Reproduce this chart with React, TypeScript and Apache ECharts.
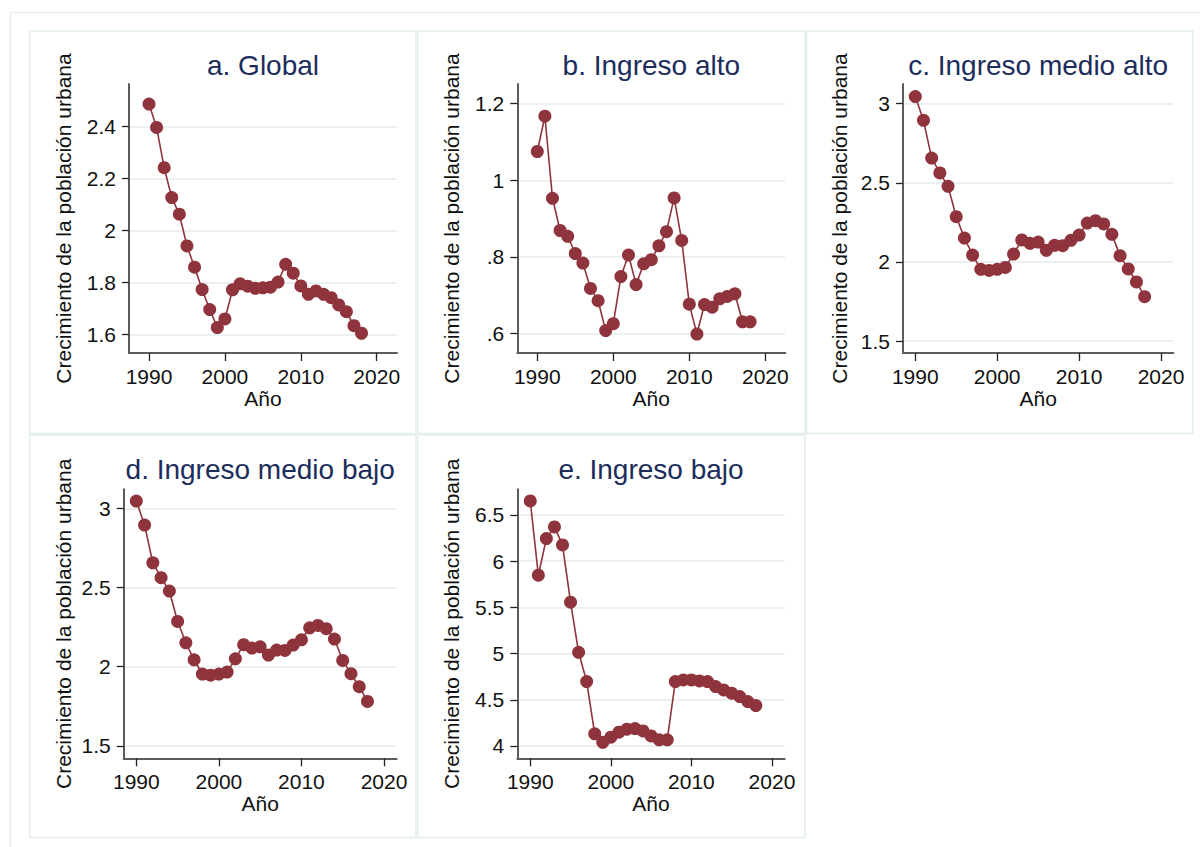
import React, { useEffect, useRef } from "react";
import * as echarts from "echarts";

const years = [
  1990, 1991, 1992, 1993, 1994, 1995, 1996, 1997, 1998, 1999,
  2000, 2001, 2002, 2003, 2004, 2005, 2006, 2007, 2008, 2009,
  2010, 2011, 2012, 2013, 2014, 2015, 2016, 2017, 2018,
];

const globalData = [
  2.486, 2.396, 2.241, 2.126, 2.062, 1.94, 1.858, 1.772, 1.695, 1.626,
  1.659, 1.771, 1.794, 1.785, 1.777, 1.779, 1.781, 1.801, 1.869, 1.835,
  1.786, 1.754, 1.767, 1.754, 1.741, 1.713, 1.687, 1.633, 1.604,
];

const highIncome = [
  1.075, 1.167, 0.953, 0.869, 0.854, 0.809, 0.784, 0.718, 0.686, 0.608,
  0.626, 0.749, 0.805, 0.728, 0.782, 0.793, 0.829, 0.866, 0.954, 0.843,
  0.677, 0.599, 0.676, 0.669, 0.691, 0.697, 0.704, 0.631, 0.631,
];

const upperMiddle = [
  3.044, 2.894, 2.656, 2.562, 2.478, 2.286, 2.151, 2.044, 1.954, 1.947,
  1.954, 1.966, 2.05, 2.139, 2.118, 2.126, 2.074, 2.105, 2.103, 2.137,
  2.17, 2.246, 2.261, 2.24, 2.175, 2.04, 1.956, 1.874, 1.781,
];

const lowerMiddle = [
  3.046, 2.894, 2.656, 2.562, 2.478, 2.286, 2.151, 2.044, 1.954, 1.947,
  1.954, 1.966, 2.05, 2.139, 2.118, 2.126, 2.074, 2.105, 2.103, 2.137,
  2.17, 2.246, 2.261, 2.24, 2.175, 2.04, 1.956, 1.874, 1.781,
];

const lowIncome = [
  6.652, 5.848, 6.245, 6.371, 6.176, 5.556, 5.014, 4.697, 4.131, 4.04,
  4.095, 4.149, 4.181, 4.188, 4.163, 4.109, 4.066, 4.066, 4.697, 4.715,
  4.715, 4.704, 4.697, 4.643, 4.607, 4.571, 4.535, 4.481, 4.437,
];

const xTicks = [1990, 2000, 2010, 2020];
const yTicksA = [1.6, 1.8, 2, 2.2, 2.4];
const yTicksB = [0.6, 0.8, 1, 1.2];
const yTicksC = [1.5, 2, 2.5, 3];
const yTicksD = [1.5, 2, 2.5, 3];
const yTicksE = [4, 4.5, 5, 5.5, 6, 6.5];

const panelTitles = [
  "a. Global",
  "b. Ingreso alto",
  "c. Ingreso medio alto",
  "d. Ingreso medio bajo",
  "e. Ingreso bajo",
];
const xAxisName = "Año";
const yAxisName = "Crecimiento de la población urbana";

const FONT = "'Liberation Sans', Arial, Helvetica, sans-serif";
const MARKER = "#8f343c";
const TITLE_COLOR = "#1c2d5c";
const GRID_COLOR = "#e5ecef";
const FRAME_COLOR = "#e3eded";

export default function App() {
  const ref = useRef<HTMLDivElement>(null);

  useEffect(() => {
    if (!ref.current) return;
    const chart = echarts.init(ref.current, undefined, { renderer: "svg" });

    const panels = [
      { data: globalData, yTicks: yTicksA, left: 129, top: 84, width: 268, height: 269, xMin: 1987.365, xMax: 2022.67, yMin: 1.528, yMax: 2.563, nameGap: 55 },
      { data: highIncome, yTicks: yTicksB, left: 517.3, top: 84, width: 268, height: 269, xMin: 1987.37, xMax: 2022.63, yMin: 0.5496, yMax: 1.251, nameGap: 55 },
      { data: upperMiddle, yTicks: yTicksC, left: 903, top: 84, width: 270.3, height: 269, xMin: 1988.5, xMax: 2021.5, yMin: 1.4256, yMax: 3.1235, nameGap: 53 },
      { data: lowerMiddle, yTicks: yTicksD, left: 123.7, top: 489.3, width: 273, height: 269, xMin: 1988.47, xMax: 2021.54, yMin: 1.422, yMax: 3.12, nameGap: 50 },
      { data: lowIncome, yTicks: yTicksE, left: 517.3, top: 489.3, width: 267.4, height: 269, xMin: 1988.39, xMax: 2021.58, yMin: 3.8665, yMax: 6.778, nameGap: 55 },
    ];

    const fmtY = (v: number) => String(+Number(v).toFixed(2)).replace(/^0\./, ".");
    const fmtX = (v: number) => String(Math.round(v));

    const option: any = {
      animation: false,
      backgroundColor: "#ffffff",
      textStyle: { fontFamily: FONT },
      title: panels.map((p, i) => ({
        text: panelTitles[i],
        left: p.left + p.width / 2,
        top: (i < 3 ? 66 : 470) - 15,
        textAlign: "center",
        padding: 0,
        textStyle: { fontFamily: FONT, fontSize: 28, fontWeight: "normal", color: TITLE_COLOR },
      })),
      grid: panels.map((p) => ({
        left: p.left,
        top: p.top,
        width: p.width,
        height: p.height,
        containLabel: false,
      })),
      xAxis: panels.map((p, i) => ({
        type: "value",
        gridIndex: i,
        min: p.xMin,
        max: p.xMax,
        name: xAxisName,
        nameLocation: "middle",
        nameGap: 34,
        nameTextStyle: { fontFamily: FONT, fontSize: 21, color: "#111" },
        axisLine: { show: true, onZero: false, lineStyle: { color: "#5c5c5c", width: 2 } },
        axisTick: { show: true, length: 8, customValues: xTicks, lineStyle: { color: "#222", width: 1.3 } },
        axisLabel: { customValues: xTicks, formatter: fmtX, fontFamily: FONT, fontSize: 21, color: "#111", margin: 13 },
        splitLine: { show: false },
      })),
      yAxis: panels.map((p, i) => ({
        type: "value",
        gridIndex: i,
        min: p.yMin,
        max: p.yMax,
        name: yAxisName,
        nameLocation: "middle",
        nameGap: p.nameGap,
        nameTextStyle: { fontFamily: FONT, fontSize: 21, color: "#111" },
        axisLine: { show: true, onZero: false, lineStyle: { color: "#5c5c5c", width: 2 } },
        axisTick: { show: true, length: 7, customValues: p.yTicks, lineStyle: { color: "#222", width: 1.3 } },
        axisLabel: { customValues: p.yTicks, formatter: fmtY, fontFamily: FONT, fontSize: 21, color: "#111", margin: 13 },
        splitLine: { show: true, lineStyle: { color: GRID_COLOR, width: 1.5 } },
      })),
      series: panels.map((p, i) => ({
        type: "line",
        xAxisIndex: i,
        yAxisIndex: i,
        data: years.map((y, k) => [y, p.data[k]]),
        symbol: "circle",
        symbolSize: 13,
        showSymbol: true,
        lineStyle: { color: MARKER, width: 1.6 },
        itemStyle: { color: MARKER },
        emphasis: { disabled: true },
      })),
      graphic: [
        { type: "rect", silent: true, z: -10, shape: { x: 10.5, y: 12.5, width: 1200, height: 850 }, style: { fill: "none", stroke: "#e8f0f0", lineWidth: 1.5 } },
        { type: "rect", silent: true, z: -10, shape: { x: 29.5, y: 31, width: 386.5, height: 402.5 }, style: { fill: "none", stroke: FRAME_COLOR, lineWidth: 1.5 } },
        { type: "rect", silent: true, z: -10, shape: { x: 418, y: 31, width: 387, height: 402.5 }, style: { fill: "none", stroke: FRAME_COLOR, lineWidth: 1.5 } },
        { type: "rect", silent: true, z: -10, shape: { x: 806.5, y: 31, width: 386.5, height: 402.5 }, style: { fill: "none", stroke: FRAME_COLOR, lineWidth: 1.5 } },
        { type: "rect", silent: true, z: -10, shape: { x: 29.5, y: 435, width: 386.5, height: 402.5 }, style: { fill: "none", stroke: FRAME_COLOR, lineWidth: 1.5 } },
        { type: "rect", silent: true, z: -10, shape: { x: 418, y: 435, width: 387, height: 402.5 }, style: { fill: "none", stroke: FRAME_COLOR, lineWidth: 1.5 } },
      ],
    };

    chart.setOption(option);
    return () => chart.dispose();
  }, []);

  return (
    <div
      ref={ref}
      style={{ position: "absolute", left: 0, top: 0, width: 1200, height: 847, background: "#fff" }}
    />
  );
}
